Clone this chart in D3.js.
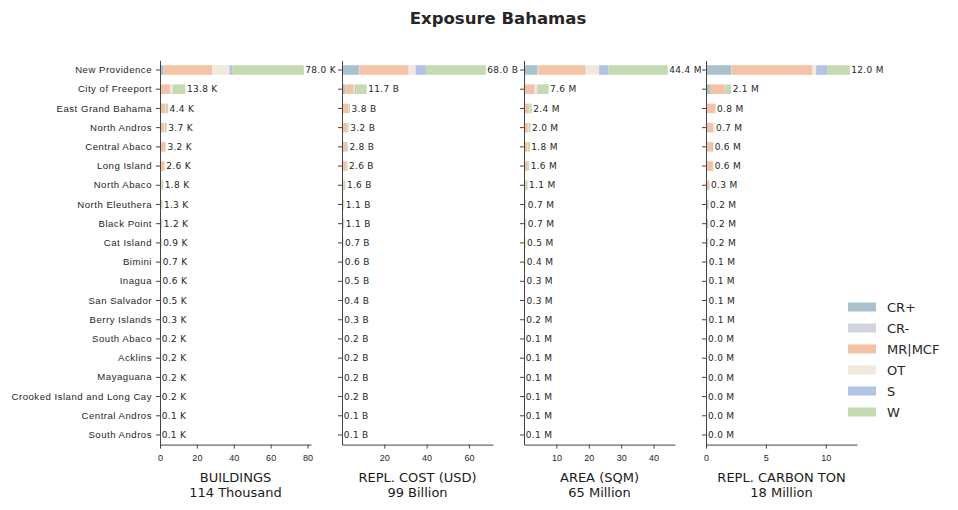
<!DOCTYPE html>
<html>
<head>
<meta charset="utf-8">
<script src="https://cdn.jsdelivr.net/npm/d3@7"></script>
<style>
  body { margin: 0; background: #fff; }
  svg { font-family: "DejaVu Sans", sans-serif; }
  .axis path, .axis line { stroke: #444; }
  .axis text { fill: #262626; }
</style>
</head>
<body>
<svg id="chart" width="958" height="510"></svg>
<script>
// categories (top to bottom)
var regions = ["New Providence", "City of Freeport", "East Grand Bahama", "North Andros",
  "Central Abaco", "Long Island", "North Abaco", "North Eleuthera", "Black Point", "Cat Island",
  "Bimini", "Inagua", "San Salvador", "Berry Islands", "South Abaco", "Acklins", "Mayaguana",
  "Crooked Island and Long Cay", "Central Andros", "South Andros"];

var classes = ["CR+", "CR-", "MR|MCF", "OT", "S", "W"];
var colors = ["#a9c3ce", "#d2d5dd", "#f4c3a6", "#f3e8dc", "#b1c3e6", "#c4dab0"];

// each row: CR+, CR-, MR|MCF, OT, S, W
var buildings = [
  [2.0,0.2,26.0,9.5,1.7,38.6], [0.1,0,5.3,1.4,0,7.0], [0,0,2.9,0.2,0,1.3], [0,0,2.3,0.4,0,1.0],
  [0,0,2.7,0.2,0,0.3], [0,0,2.2,0.2,0,0.2], [0,0,0.5,0.2,0,1.1], [0,0,0.4,0.1,0,0.8],
  [0,0,0.5,0.1,0,0.6], [0,0,0.3,0.1,0,0.5], [0,0,0.3,0.1,0,0.3], [0,0,0.2,0.1,0,0.3],
  [0,0,0.2,0.1,0,0.2], [0,0,0.1,0.1,0,0.1], [0,0,0.1,0,0,0.1], [0,0,0.1,0,0,0.12],
  [0,0,0.08,0.02,0,0.1], [0,0,0.1,0.02,0,0.08], [0,0,0.05,0.01,0,0.06], [0,0,0.05,0.01,0,0.05]
];
var replCost = [
  [8.0,0.2,23.3,3.3,4.9,28.3], [1.4,0.1,4.1,0.5,0.6,5.0], [0.1,0,2.8,0.1,0,0.8], [0.1,0,2.5,0.1,0,0.5],
  [0,0,2.1,0,0.3,0.4], [0,0,2.0,0,0.2,0.4], [0,0,0.7,0,0,0.9], [0,0,0.8,0,0,0.3],
  [0,0,0.9,0,0,0.2], [0,0,0.2,0,0,0.5], [0,0,0.3,0,0.1,0.2], [0,0,0.2,0,0,0.3],
  [0,0,0.2,0,0,0.2], [0,0,0.1,0,0.1,0.1], [0,0,0.1,0,0,0.1], [0,0,0.1,0,0,0.1],
  [0,0,0.1,0,0,0.1], [0,0,0.1,0,0,0.1], [0,0,0.05,0,0,0.07], [0,0,0.05,0,0,0.06]
];
var area = [
  [4.2,0.3,14.5,4.2,2.9,18.3], [0.1,0,3.2,0.8,0.4,3.1], [0,0,1.6,0.2,0,0.6], [0,0,1.2,0.2,0,0.6],
  [0,0,1.1,0.1,0,0.6], [0,0,1.1,0,0.3,0.2], [0,0,0.4,0,0,0.7], [0,0,0.4,0,0,0.3],
  [0,0,0.4,0,0,0.3], [0,0,0.1,0,0,0.4], [0,0,0.2,0,0,0.2], [0,0,0.1,0,0,0.2],
  [0,0,0.1,0,0,0.2], [0,0,0.1,0,0,0.1], [0,0,0.05,0,0,0.06], [0,0,0.05,0,0,0.06],
  [0,0,0.05,0,0,0.06], [0,0,0.05,0,0,0.06], [0,0,0.05,0,0,0.06], [0,0,0.05,0,0,0.06]
];
var carbon = [
  [2.1,0.05,6.7,0.35,0.95,1.86], [0.33,0,1.25,0.05,0.1,0.37], [0,0,0.78,0,0,0.02], [0,0,0.62,0.05,0,0.03],
  [0,0,0.5,0,0.08,0.02], [0,0,0.58,0,0.01,0.01], [0,0,0.28,0,0.01,0.01], [0,0,0.05,0,0.15,0.01],
  [0,0,0.03,0,0.15,0.01], [0,0,0.1,0,0.06,0.01], [0,0,0.02,0,0.08,0.01], [0,0,0.05,0,0.02,0.01],
  [0,0,0.05,0,0.02,0.02], [0,0,0.04,0,0.03,0.02], [0,0,0.02,0,0.01,0.01], [0,0,0.02,0,0.01,0.01],
  [0,0,0.02,0,0.01,0.01], [0,0,0.02,0,0.01,0.01], [0,0,0.02,0,0.01,0.01], [0,0,0.02,0,0.01,0.01]
];

var panelTitles = ["BUILDINGS", "REPL. COST (USD)", "AREA (SQM)", "REPL. CARBON TON"];
var panelTotals = ["114 Thousand", "99 Billion", "65 Million", "18 Million"];
var units = ["K", "B", "M", "M"];
var xTicks = [[0, 20, 40, 60, 80], [20, 40, 60], [10, 20, 30, 40], [0, 5, 10]];

var panels = [buildings, replCost, area, carbon];

var svg = d3.select("#chart");
var panelLeft = [160, 342, 524, 706],
    panelWidth = 151,
    plotTop = 60.4, plotBottom = 444.6;

svg.append("text")
  .attr("x", 498).attr("y", 24)
  .attr("text-anchor", "middle")
  .style("font-size", "16.5px").style("font-weight", "bold").style("fill", "#262626")
  .text("Exposure Bahamas");

var y = d3.scaleBand().domain(regions).range([plotTop, plotBottom]).paddingInner(0.5).paddingOuter(0.25);

panels.forEach(function(rows, p) {
  var totals = rows.map(function(r) { return d3.sum(r); });
  var x = d3.scaleLinear()
    .domain([0, d3.max(totals) * 1.05])
    .range([panelLeft[p], panelLeft[p] + panelWidth]);

  var g = svg.append("g");

  // stacked segments
  rows.forEach(function(r, i) {
    var start = 0;
    r.forEach(function(v, k) {
      if (v > 0) {
        g.append("rect")
          .attr("x", x(start))
          .attr("y", y(regions[i]))
          .attr("width", x(start + v) - x(start))
          .attr("height", y.bandwidth())
          .attr("fill", colors[k]);
      }
      start += v;
    });
  });

  // value labels
  g.selectAll(".val")
    .data(totals)
    .enter().append("text")
    .attr("class", "val")
    .attr("x", function(d) { return x(d) + 1.5; })
    .attr("y", function(d, i) { return y(regions[i]) + y.bandwidth() / 2; })
    .attr("dy", "0.35em")
    .style("font-size", "9px").style("letter-spacing", "0.3px").style("fill", "#262626")
    .text(function(d) { return d.toFixed(1) + " " + units[p]; });

  var xAxis = svg.append("g")
    .attr("class", "axis")
    .attr("transform", "translate(0," + plotBottom + ")")
    .call(d3.axisBottom(x).tickValues(xTicks[p]).tickFormat(d3.format("d")).tickSize(4).tickSizeOuter(0));
  xAxis.selectAll("text").style("font-size", "9px").attr("dy", "1em");

  var yAxis = svg.append("g")
    .attr("class", "axis")
    .attr("transform", "translate(" + panelLeft[p] + ",0)")
    .call(d3.axisLeft(y).tickSize(4).tickSizeOuter(0).tickPadding(4));
  yAxis.selectAll("text").style("font-size", "9.6px").style("letter-spacing", "0.5px");
  if (p > 0) yAxis.selectAll("text").remove();

  var cx = panelLeft[p] + panelWidth / 2;
  svg.append("text").attr("x", cx).attr("y", 482)
    .attr("text-anchor", "middle").style("font-size", "13px").style("fill", "#1a1a1a")
    .text(panelTitles[p]);
  svg.append("text").attr("x", cx).attr("y", 497)
    .attr("text-anchor", "middle").style("font-size", "13px").style("fill", "#1a1a1a")
    .text(panelTotals[p]);
});

// legend
var legend = svg.append("g").attr("transform", "translate(848,307)");
classes.forEach(function(c, i) {
  legend.append("rect")
    .attr("x", 0).attr("y", i * 21 - 4.5)
    .attr("width", 28).attr("height", 9)
    .attr("fill", colors[i]);
  legend.append("text")
    .attr("x", 39).attr("y", i * 21)
    .attr("dy", "0.35em")
    .style("font-size", "13px").style("fill", "#262626")
    .text(c);
});
</script>
</body>
</html>
